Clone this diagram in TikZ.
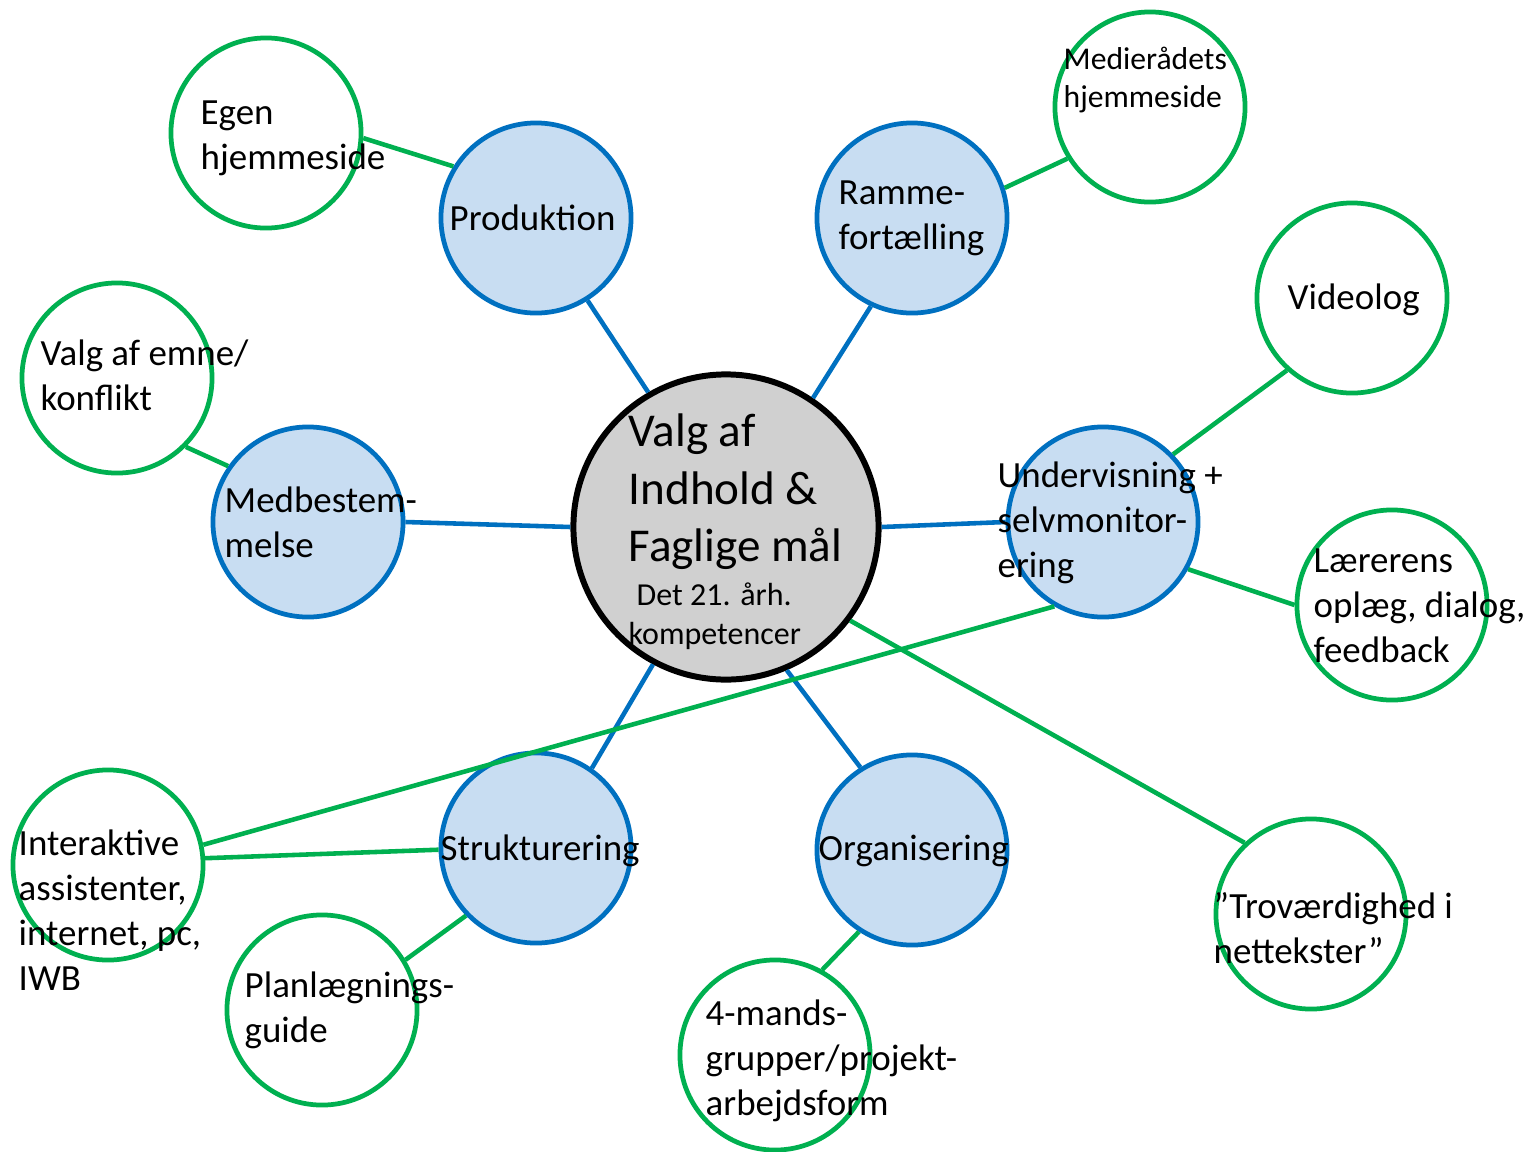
\documentclass[tikz,border=0pt]{standalone}
\usepackage{fontspec}
\setmainfont{Carlito}
\definecolor{hubblue}{RGB}{0,112,192}
\definecolor{leafgreen}{RGB}{0,176,80}
\definecolor{hubfill}{RGB}{200,221,242}
\definecolor{corefill}{RGB}{208,208,208}

\begin{document}
\begin{tikzpicture}[
    x=0.01cm, y=-0.01cm,
    core/.style={circle, draw=black, line width=1.7pt, fill=corefill, minimum size=3.05cm, inner sep=0pt},
    hub/.style={circle, draw=hubblue, line width=1.35pt, fill=hubfill, minimum size=1.9cm, inner sep=0pt},
    leaf/.style={circle, draw=leafgreen, line width=1.35pt, fill=white, minimum size=1.9cm, inner sep=0pt},
    txt/.style={anchor=west, align=left, inner sep=0pt, font=\fontsize{10.5}{12.8}\selectfont},
    hubline/.style={hubblue, line width=1.3pt},
    leafline/.style={leafgreen, line width=1.3pt}
]
\useasboundingbox (0,0) rectangle (1533,1151);

% Centre
\node[core] (core) at (726,527) {};

% Inner ring
\node[hub] (prod) at (536,218) {};
\node[hub] (ramme) at (912,218) {};
\node[hub] (medbest) at (308,522) {};
\node[hub] (underv) at (1103,522) {};
\node[hub] (strukt) at (536,848) {};
\node[hub] (organ) at (912,850) {};

% Outer ring
\node[leaf] (egen) at (266,133) {};
\node[leaf] (medie) at (1150,107) {};
\node[leaf] (video) at (1352,298) {};
\node[leaf] (emne) at (117,378) {};
\node[leaf] (laerer) at (1392,605) {};
\node[leaf] (trov) at (1311,914) {};
\node[leaf] (inter) at (108,865) {};
\node[leaf] (plan) at (322,1010) {};
\node[leaf] (gruppe) at (775,1055) {};

% Links to the centre
\draw[hubline] (core.120) -- (prod.-58);
\draw[hubline] (core.56) -- (ramme.245);
\draw[hubline] (core.180) -- (medbest.0);
\draw[hubline] (core.0) -- (underv.180);
\draw[hubline] (core.242) -- (strukt.55);
\draw[hubline] (core.-67) -- (organ.122);

% Links to the outer ring
\draw[leafline] (egen.-3) -- (prod.148);
\draw[leafline] (medie.212) -- (ramme.18);
\draw[leafline] (video.228) -- (underv.44);
\draw[leafline] (emne.-45) -- (medbest.145);
\draw[leafline] (laerer.180) -- (underv.-29);
\draw[leafline] (trov.133) -- (core.-37);
\draw[leafline] (inter.12) -- (underv.240);
\draw[leafline] (inter.4) -- (strukt.181);
\draw[leafline] (plan.31) -- (strukt.224);
\draw[leafline] (gruppe.61) -- (organ.237);

% Texts
\node[txt, font=\fontsize{13.4}{16.4}\selectfont] (coretxt) at (628,492) {Valg af\\Indhold \&\\Faglige mål};
\node[txt, font=\fontsize{9.1}{11.1}\selectfont] (coresub) at (628,616) {\hspace{0.08cm}Det 21. årh.\\kompetencer};
\node[txt] (prodtxt) at (449,218) {Produktion};
\node[txt] (rammetxt) at (838,218) {Ramme-\\fortælling};
\node[txt] (medbesttxt) at (224,522) {Medbestem-\\melse};
\node[txt] (undervtxt) at (997,523) {Undervisning +\\selvmonitor-\\ering};
\node[txt] (strukttxt) at (440,851) {Strukturering};
\node[txt] (organtxt) at (818,851) {Organisering};
\node[txt] (egentxt) at (200,138) {Egen\\hjemmeside};
\node[txt, font=\fontsize{9}{10.8}\selectfont] (medietxt) at (1063,80) {Medierådets\\hjemmeside};
\node[txt] (videotxt) at (1287,300) {Videolog};
\node[txt] (emnetxt) at (40,375) {Valg af emne/\\konflikt};
\node[txt] (laerertxt) at (1313,606) {Lærerens\\oplæg, dialog,\\feedback};
\node[txt] (trovtxt) at (1213,928) {”Troværdighed i\\nettekster”};
\node[txt] (intertxt) at (18,910) {Interaktive\\assistenter,\\internet, pc,\\IWB};
\node[txt] (plantxt) at (244,1010) {Planlægnings-\\guide};
\node[txt] (gruppetxt) at (705,1061) {4-mands-\\grupper/projekt-\\arbejdsform};

\end{tikzpicture}
\end{document}
